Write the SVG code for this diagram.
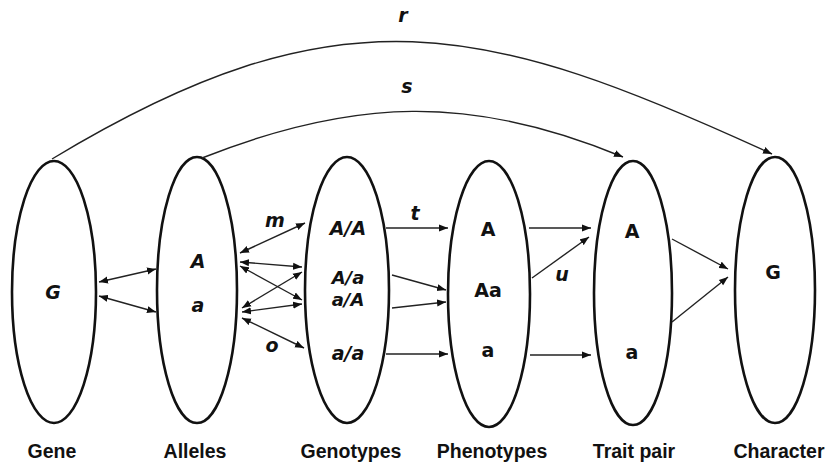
<svg xmlns="http://www.w3.org/2000/svg" width="834" height="465" viewBox="0 0 834 465">
<style>
.node ellipse{fill:none;stroke:#111;stroke-width:2.6}
text{font-weight:bold;fill:#111;text-anchor:middle;dominant-baseline:central}
.it{font-style:italic}
.lbl{font-family:"Liberation Sans",Arial,sans-serif;font-size:19.5px}
.in{font-family:"DejaVu Sans",Verdana,sans-serif;font-size:19px}
.sm{font-size:18px}
.cn path,.cn line{fill:none;stroke:#222;stroke-width:1.4;marker-end:url(#ah)}
.cn .dbl{marker-start:url(#ah)}
</style>
<defs>
<marker id="ah" markerUnits="userSpaceOnUse" markerWidth="10" markerHeight="8" refX="9" refY="4" orient="auto-start-reverse">
<path d="M0,0.5 L9,4 L0,7.5 z" fill="#111"/>
</marker>
</defs>
<rect width="834" height="465" fill="#fff"/>
<g id="gene" class="node">
<ellipse cx="54" cy="292" rx="42" ry="131"/>
<text class="in it" x="53" y="292">G</text>
<text class="lbl" x="52" y="451">Gene</text>
</g>
<g id="alleles" class="node">
<ellipse cx="197" cy="290" rx="40" ry="133"/>
<text class="in it" x="198" y="261">A</text>
<text class="in it" x="198" y="305">a</text>
<text class="lbl" x="195" y="451">Alleles</text>
</g>
<g id="genotypes" class="node">
<ellipse cx="347" cy="290" rx="42" ry="133"/>
<text class="in it" x="348" y="228">A/A</text>
<text class="in it sm" x="348" y="277">A/a</text>
<text class="in it sm" x="348" y="299">a/A</text>
<text class="in it" x="348" y="353">a/a</text>
<text class="lbl" x="351" y="451">Genotypes</text>
</g>
<g id="phenotypes" class="node">
<ellipse cx="489" cy="294" rx="41" ry="133"/>
<text class="in" x="488" y="229">A</text>
<text class="in" x="488" y="290">Aa</text>
<text class="in" x="488" y="350">a</text>
<text class="lbl" x="492" y="451">Phenotypes</text>
</g>
<g id="traitpair" class="node">
<ellipse cx="633" cy="293" rx="39" ry="132"/>
<text class="in" x="632" y="231">A</text>
<text class="in" x="632" y="352">a</text>
<text class="lbl" x="634" y="451">Trait pair</text>
</g>
<g id="character" class="node">
<ellipse cx="775" cy="290" rx="40" ry="133"/>
<text class="in" x="773" y="272">G</text>
<text class="lbl" x="779" y="451">Character</text>
</g>
<g id="connectors" class="cn">
<path d="M52,159 C340,-15 485,22 772,154"/>
<path d="M202,158 C353,98 472,94 623,157"/>
<line class="dbl" x1="99" y1="282" x2="156" y2="269"/>
<line class="dbl" x1="99" y1="296" x2="156" y2="312"/>
<line class="dbl" x1="240" y1="253" x2="305" y2="223"/>
<line class="dbl" x1="240" y1="262" x2="302" y2="267"/>
<line class="dbl" x1="240" y1="266" x2="302" y2="300"/>
<line class="dbl" x1="242" y1="308" x2="302" y2="272"/>
<line class="dbl" x1="242" y1="312" x2="302" y2="304"/>
<line class="dbl" x1="242" y1="318" x2="304" y2="348"/>
<line x1="386" y1="228" x2="448" y2="228"/>
<line x1="392" y1="275" x2="446" y2="290"/>
<line x1="392" y1="308" x2="446" y2="302"/>
<line x1="386" y1="354" x2="448" y2="354"/>
<line x1="529" y1="228" x2="591" y2="228"/>
<line x1="532" y1="278" x2="589" y2="237"/>
<line x1="530" y1="355" x2="591" y2="355"/>
<line x1="672" y1="239" x2="728" y2="269"/>
<line x1="672" y1="322" x2="728" y2="277"/>
</g>
<g id="labels">
<text class="in it" x="403" y="15">r</text>
<text class="in it" x="407" y="86">s</text>
<text class="in it" x="275" y="220">m</text>
<text class="in it" x="272" y="345">o</text>
<text class="in it" x="415" y="213">t</text>
<text class="in it" x="562" y="274">u</text>
</g>
</svg>
